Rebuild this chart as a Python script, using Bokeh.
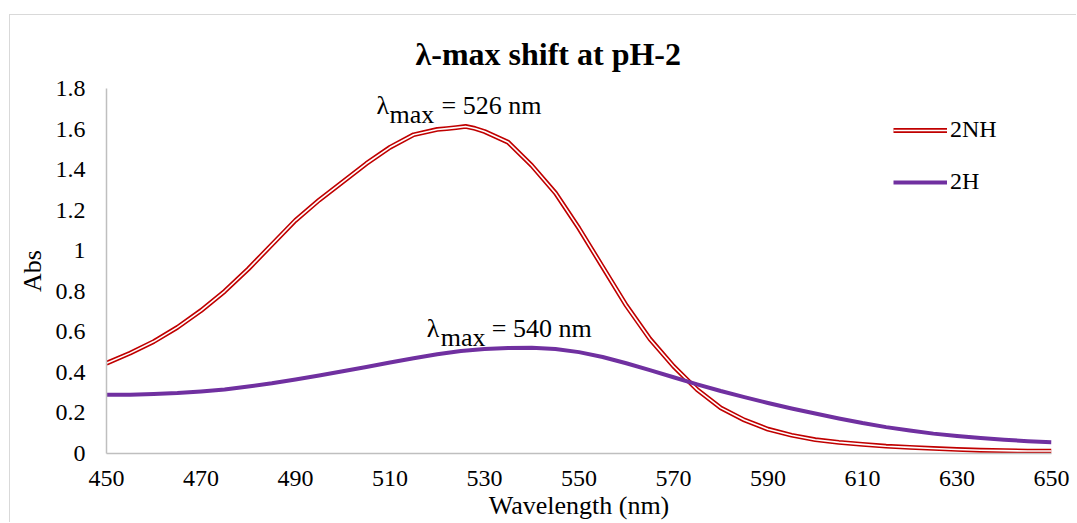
from bokeh.plotting import figure
from bokeh.models import Range1d, FixedTicker, Legend, LegendItem, Label
from bokeh.embed import file_html
from bokeh.resources import INLINE

# ---- data ----
wavelength_2nh = [450, 455, 460, 465, 470, 475, 480, 485, 490, 495, 500, 505, 510, 515,
                  520, 522, 524, 526, 528, 530, 535, 540, 545, 550, 555, 560, 565, 570,
                  575, 580, 585, 590, 595, 600, 605, 610, 615, 620, 625, 630, 635, 640,
                  645, 650]
abs_2nh = [0.445, 0.495, 0.552, 0.622, 0.705, 0.80, 0.91, 1.03, 1.15, 1.25, 1.34, 1.43, 1.51, 1.572,
           1.598, 1.602, 1.607, 1.613, 1.603, 1.588, 1.535, 1.42, 1.285, 1.11, 0.92, 0.73, 0.565, 0.43,
           0.315, 0.225, 0.165, 0.12, 0.09, 0.068, 0.055, 0.045, 0.036, 0.03, 0.025, 0.02, 0.016, 0.014,
           0.012, 0.012]
wavelength_2h = [450, 455, 460, 465, 470, 475, 480, 485, 490, 495, 500, 505, 510, 515, 520,
                 525, 530, 535, 540, 545, 550, 555, 560, 565, 570, 575, 580, 585, 590, 595,
                 600, 605, 610, 615, 620, 625, 630, 635, 640, 645, 650]
abs_2h = [0.29, 0.29, 0.293, 0.298, 0.306, 0.316, 0.33, 0.346, 0.365, 0.385, 0.406, 0.427, 0.449,
          0.47, 0.489, 0.505, 0.515, 0.52, 0.521, 0.515, 0.50, 0.476, 0.445, 0.411, 0.376, 0.341,
          0.308, 0.278, 0.249, 0.222, 0.197, 0.173, 0.150, 0.130, 0.113, 0.098, 0.086, 0.076,
          0.068, 0.061, 0.055]
x_ticks = [450, 470, 490, 510, 530, 550, 570, 590, 610, 630, 650]
y_ticks = [0, 0.2, 0.4, 0.6, 0.8, 1.0, 1.2, 1.4, 1.6, 1.8]
y_tick_labels = ["0", "0.2", "0.4", "0.6", "0.8", "1", "1.2", "1.4", "1.6", "1.8"]
series_names = ["2NH", "2H"]
lambda_max = [526, 540]
title_text = "λ-max shift at pH-2"
x_title = "Wavelength (nm)"
y_title = "Abs"

FONT = "Liberation Serif"
RED = "#C00000"
PURPLE = "#7030A0"
AXIS_GRAY = "#BFBFBF"

# the host element is shifted by (10, 15) px to draw the outer chart border
p = figure(width=1067, height=508, output_backend="svg", toolbar_location=None,
           x_range=Range1d(450, 650), y_range=Range1d(0, 1.8),
           min_border_left=96, min_border_right=26, min_border_top=73, min_border_bottom=70)
p.styles = {"margin-left": "9px", "margin-top": "14px",
            "border-left": "1px solid #D9D9D9", "border-top": "1px solid #D9D9D9"}
p.outline_line_color = None
p.xgrid.visible = False
p.ygrid.visible = False
p.background_fill_color = "white"
p.border_fill_color = "white"

# title
p.title.text = title_text
p.title.text_font = FONT
p.title.text_font_size = "32px"
p.title.text_font_style = "bold"
p.title.text_color = "black"
p.title.align = "left"
p.title.offset = 309
p.title.standoff = 33

# axes
for ax in (p.xaxis[0], p.yaxis[0]):
    ax.axis_line_color = AXIS_GRAY
    ax.axis_line_width = 1.5
    ax.major_tick_out = 0
    ax.major_tick_in = 0
    ax.minor_tick_out = 0
    ax.minor_tick_in = 0
    ax.major_label_text_font = FONT
    ax.major_label_text_font_size = "24px"
    ax.major_label_text_color = "black"
    ax.axis_label_text_font = FONT
    ax.axis_label_text_font_size = "26px"
    ax.axis_label_text_font_style = "normal"
    ax.axis_label_text_color = "black"

p.xaxis.ticker = FixedTicker(ticks=x_ticks)
p.yaxis.ticker = FixedTicker(ticks=y_ticks)
p.yaxis.major_label_overrides = {t: l for t, l in zip(y_ticks, y_tick_labels)}
p.xaxis.axis_label = x_title
p.yaxis.axis_label = y_title
p.xaxis.major_label_standoff = 17
p.yaxis.major_label_standoff = 21
p.xaxis.axis_label_standoff = 2
p.yaxis.axis_label_standoff = 6

# series
r_red = p.line(wavelength_2nh, abs_2nh, line_color=RED, line_width=4.8, line_join="round")
r_white = p.line(wavelength_2nh, abs_2nh, line_color="white", line_width=1.6, line_join="round")
r_purple = p.line(wavelength_2h, abs_2h, line_color=PURPLE, line_width=4, line_join="round")

legend = Legend(items=[LegendItem(label=series_names[0], renderers=[r_red, r_white]),
                       LegendItem(label=series_names[1], renderers=[r_purple])],
                location=(787, 258), orientation="vertical")
legend.border_line_color = None
legend.background_fill_alpha = 0
legend.padding = 0
legend.margin = 0
legend.spacing = 25
legend.glyph_width = 54
legend.glyph_height = 24
legend.label_standoff = 3
legend.label_text_font = FONT
legend.label_text_font_size = "24px"
legend.label_text_color = "black"
p.add_layout(legend, "center")

# lambda max annotations (subscript "max")
ann_y_main = [1.717, 0.614]
ann_y_sub = [1.672, 0.574]
ann_offsets = [(-89, -76, -24), (-105, -91, -40)]
for lm, ym, ys, (o1, o2, o3) in zip(lambda_max, ann_y_main, ann_y_sub, ann_offsets):
    common = dict(text_font=FONT, text_font_size="26px", text_color="black",
                  text_align="left", text_baseline="alphabetic")
    p.add_layout(Label(x=lm, y=ym, x_offset=o1, text="λ", **common))
    p.add_layout(Label(x=lm, y=ys, x_offset=o2, text="max", **common))
    p.add_layout(Label(x=lm, y=ym, x_offset=o3, text=f"= {lm} nm", **common))

open("out.html", "w").write(file_html(p, INLINE))
